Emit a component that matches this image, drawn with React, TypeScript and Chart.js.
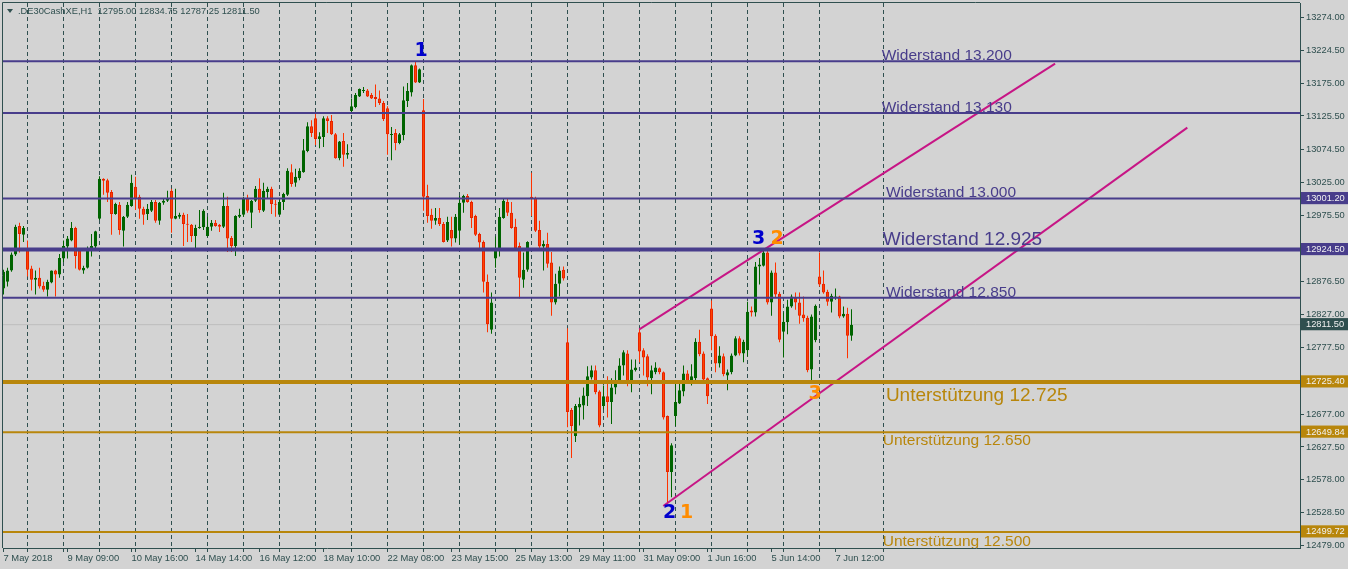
import React, { useEffect, useRef } from 'react';
import { Chart, registerables } from 'chart.js';

Chart.register(...registerables);

// ---------------- data (DE30 Cash, H1) ----------------
const symbol = '.DE30CashXE,H1';

const open = [
  12866, 12876, 12893, 12917, 12960, 12947, 12927, 12896, 12879, 12882,
  12870, 12864, 12875, 12893, 12887, 12911, 12929, 12938, 12957, 12923,
  12893, 12897, 12926, 12929, 12971, 13031, 13029, 13011, 12978, 12992,
  12953, 12974, 12990, 13019, 13004, 12986, 12978, 12983, 12996, 12968,
  12995, 12998, 13013, 12971, 12974, 12977, 12963, 12962, 12945, 12957,
  12958, 12945, 12959, 12965, 12962, 12959, 12990, 12942, 12930, 12974,
  12977, 13002, 12980, 12998, 13016, 12983, 13011, 13016, 12993, 12977,
  12996, 13007, 13041, 13025, 13032, 13041, 13073, 13110, 13122, 13091,
  13094, 13122, 13118, 13098, 13062, 13088, 13067, 13133, 13139, 13155,
  13163, 13164, 13157, 13154, 13152, 13145, 13137, 13097, 13100, 13085,
  13097, 13148, 13161, 13202, 13176, 13134, 13005, 12977, 12968, 12972,
  12963, 12938, 12954, 12941, 12953, 12995, 13005, 12996, 12975, 12948,
  12936, 12876, 12804, 12911, 12926, 12972, 12996, 12980, 12959, 12930,
  12879, 12894, 13004, 13002, 12954, 12929, 12933, 12905, 12845, 12873,
  12894, 12785, 12683, 12644, 12687, 12690, 12704, 12732, 12743, 12711,
  12689, 12704, 12695, 12717, 12726, 12750, 12768, 12726, 12743, 12800,
  12773, 12764, 12731, 12740, 12746, 12740, 12674, 12590, 12674, 12693,
  12711, 12738, 12726, 12731, 12786, 12768, 12731, 12836, 12795, 12753,
  12764, 12735, 12740, 12765, 12791, 12768, 12773, 12833, 12830, 12899,
  12900, 12920, 12845, 12890, 12858, 12801, 12815, 12839, 12852, 12845,
  12827, 12822, 12744, 12788, 12884, 12873, 12861, 12846, 12852, 12854,
  12824, 12828, 12795,
];

const high = [
  12894, 12897, 12920, 12962, 12965, 12960, 12938, 12900, 12893, 12897,
  12876, 12879, 12893, 12894, 12918, 12938, 12945, 12966, 12959, 12924,
  12900, 12929, 12948, 12953, 13035, 13032, 13031, 13014, 12995, 12996,
  12975, 12996, 13037, 13034, 13007, 12989, 12993, 12999, 12999, 12996,
  13001, 13013, 13016, 13016, 12980, 12980, 12978, 12963, 12962, 12984,
  12985, 12974, 12969, 12969, 12963, 13010, 13004, 12945, 12976, 12986,
  13004, 13007, 12999, 13020, 13032, 13025, 13019, 13019, 12999, 12999,
  13010, 13047, 13053, 13046, 13047, 13091, 13116, 13119, 13130, 13101,
  13125, 13125, 13127, 13100, 13088, 13100, 13083, 13152, 13160, 13167,
  13169, 13166, 13160, 13173, 13164, 13148, 13140, 13109, 13106, 13100,
  13170, 13175, 13203, 13208, 13197, 13151, 13022, 12986, 12987, 12987,
  12966, 12974, 12974, 12978, 13005, 13007, 13008, 12998, 12977, 12950,
  12938, 12887, 12860, 12944, 12987, 13001, 13001, 12996, 12971, 12935,
  12920, 12937, 13040, 13004, 12968, 12938, 12950, 12921, 12888, 12899,
  12899, 12806, 12686, 12692, 12702, 12717, 12749, 12750, 12750, 12713,
  12720, 12734, 12731, 12743, 12761, 12773, 12773, 12759, 12759, 12806,
  12776, 12767, 12750, 12755, 12747, 12741, 12675, 12633, 12725, 12725,
  12750, 12743, 12752, 12791, 12804, 12771, 12732, 12848, 12797, 12779,
  12768, 12744, 12768, 12794, 12794, 12789, 12846, 12839, 12906, 12912,
  12927, 12926, 12893, 12905, 12861, 12830, 12849, 12857, 12860, 12860,
  12854, 12825, 12827, 12842, 12920, 12893, 12864, 12858, 12866, 12855,
  12839, 12837, 12834.75,
];

const low = [
  12857, 12869, 12891, 12915, 12920, 12936, 12884, 12863, 12857, 12866,
  12861, 12854, 12874, 12854, 12882, 12906, 12911, 12937, 12896, 12893,
  12888, 12896, 12914, 12926, 12969, 13007, 12996, 12947, 12977, 12947,
  12929, 12972, 12989, 12984, 12971, 12962, 12969, 12981, 12965, 12962,
  12992, 12996, 12950, 12970, 12971, 12930, 12936, 12936, 12924, 12956,
  12954, 12944, 12953, 12959, 12951, 12957, 12921, 12921, 12915, 12972,
  12974, 12980, 12957, 12996, 12980, 12981, 13002, 12978, 12974, 12976,
  12984, 13005, 13019, 13019, 13029, 13040, 13071, 13094, 13082, 13077,
  13079, 13100, 13097, 13061, 13059, 13049, 13061, 13131, 13137, 13154,
  13160, 13154, 13151, 13139, 13142, 13118, 13067, 13059, 13074, 13083,
  13089, 13139, 13155, 13175, 13175, 12983, 12965, 12956, 12962, 12960,
  12935, 12936, 12929, 12935, 12932, 12980, 12995, 12957, 12945, 12927,
  12860, 12800, 12798, 12897, 12914, 12971, 12975, 12956, 12923, 12851,
  12867, 12891, 12975, 12951, 12927, 12893, 12897, 12825, 12842, 12854,
  12878, 12657, 12611, 12635, 12660, 12669, 12689, 12729, 12707, 12657,
  12684, 12672, 12662, 12707, 12725, 12735, 12719, 12710, 12741, 12755,
  12735, 12719, 12707, 12737, 12737, 12669, 12541, 12552, 12659, 12692,
  12704, 12723, 12720, 12728, 12764, 12726, 12692, 12773, 12740, 12747,
  12734, 12713, 12737, 12764, 12765, 12755, 12764, 12824, 12824, 12872,
  12899, 12842, 12825, 12852, 12785, 12762, 12797, 12837, 12834, 12813,
  12816, 12740, 12728, 12785, 12869, 12858, 12840, 12830, 12849, 12821,
  12822, 12761, 12787.25,
];

const close = [
  12891, 12893, 12917, 12959, 12948, 12957, 12894, 12879, 12882, 12869,
  12864, 12876, 12893, 12887, 12912, 12930, 12941, 12957, 12915, 12894,
  12897, 12926, 12930, 12952, 13031, 13028, 13010, 12978, 12993, 12954,
  12974, 12992, 13025, 13001, 12986, 12977, 12986, 12996, 12968, 12995,
  12998, 13001, 12971, 12975, 12977, 12963, 12962, 12945, 12957, 12959,
  12983, 12959, 12965, 12960, 12959, 12990, 12941, 12930, 12975, 12977,
  13001, 12983, 12998, 13016, 12984, 13013, 13016, 12993, 12992, 12996,
  13008, 13043, 13023, 13034, 13043, 13074, 13110, 13100, 13091, 13095,
  13122, 13118, 13098, 13062, 13087, 13067, 13070, 13140, 13157, 13166,
  13164, 13155, 13152, 13151, 13145, 13121, 13098, 13098, 13085, 13098,
  13149, 13163, 13202, 13176, 13196, 13004, 12975, 12968, 12972, 12963,
  12936, 12966, 12941, 12974, 12995, 13005, 12996, 12972, 12947, 12935,
  12876, 12812, 12845, 12926, 12974, 12998, 12980, 12957, 12926, 12882,
  12894, 12936, 13002, 12953, 12929, 12933, 12903, 12845, 12873, 12893,
  12881, 12680, 12659, 12689, 12692, 12705, 12734, 12743, 12710, 12660,
  12704, 12695, 12717, 12726, 12750, 12770, 12726, 12744, 12747, 12771,
  12762, 12732, 12743, 12747, 12740, 12672, 12590, 12630, 12695, 12713,
  12738, 12726, 12734, 12786, 12767, 12729, 12704, 12794, 12753, 12765,
  12737, 12740, 12765, 12791, 12768, 12786, 12831, 12830, 12899, 12902,
  12920, 12845, 12890, 12857, 12789, 12816, 12839, 12854, 12845, 12825,
  12821, 12743, 12824, 12840, 12872, 12860, 12846, 12855, 12854, 12824,
  12828, 12795, 12811.5,
];

// time axis labels (bar index -> label)
const xLabelIndex = [0, 16, 32, 48, 64, 80, 96, 112, 128, 144, 160, 176, 192, 208];
const xLabelText = [
  '7 May 2018', '9 May 09:00', '10 May 16:00', '14 May 14:00', '16 May 12:00', '18 May 10:00',
  '22 May 08:00', '23 May 15:00', '25 May 13:00', '29 May 11:00', '31 May 09:00', '1 Jun 16:00',
  '5 Jun 14:00', '7 Jun 12:00',
];
const xGridIndex = [6, 15, 24, 33, 42, 51, 60, 69, 78, 87, 96, 105, 114, 123, 132, 141, 150, 159, 168, 177, 186, 195, 204, 220];

// price axis
const yTickValues = [13274, 13224.5, 13175, 13125.5, 13074.5, 13025, 12975.5, 12876.5, 12827, 12777.5, 12677, 12627.5, 12578, 12528.5, 12479];
const markedPrices = [13001.2, 12924.5, 12811.5, 12725.4, 12649.84, 12499.72];

// horizontal levels
const resistanceLevels = [13208, 13130, 13001.2, 12924.5, 12852];
const resistanceNames = ['Widerstand 13.200', 'Widerstand 13.130', 'Widerstand 13.000', 'Widerstand 12.925', 'Widerstand 12.850'];
const supportLevels = [12725.4, 12649.84, 12499.72];
const supportNames = ['Unterstützung 12.725', 'Unterstützung 12.650', 'Unterstützung 12.500'];
const bidPrice = 12811.5;

// trend channel (bar index, price)
const channelUpper = [{ x: 158.95, y: 12804.5 }, { x: 262.9, y: 13204.2 }];
const channelLower = [{ x: 164.95, y: 12538.7 }, { x: 295.95, y: 13107.9 }];

// wave counts
const waveText = ['1', '3', '2', '3', '2', '1'];
const waveX = [104.4, 188.8, 193.4, 202.9, 166.5, 170.75];
const waveY = [13223.3, 12940.4, 12940.4, 12707.2, 12528.1, 12527.4];

// ---------------- styling ----------------
const X_MIN = -0.125;
const X_MAX = 324.125;
const Y_MIN = 12475.5;
const Y_MAX = 13295.5;
const FG = '#2F4F4F';
const BG = '#D3D3D3';
const RES = '#483D8B';
const SUP = '#B8860B';
const BULL = '#006400';
const BEAR = '#FF4500';
const BEAR_EDGE = '#E62200';
const BEAR_WICK = '#FF3300';
const FONT = "'Liberation Sans', Arial, sans-serif";

const resWidths = [2, 2, 2, 4, 2];
const supWidths = [4, 2, 2];
const resTextPos = [
  { x: 219.55, y: 13209.7, size: 15.5 },
  { x: 219.55, y: 13131.5, size: 15.5 },
  { x: 220.6, y: 13004.0, size: 15.5 },
  { x: 219.8, y: 12931.4, size: 19 },
  { x: 220.6, y: 12853.6, size: 15.5 },
];
const supTextPos = [
  { x: 220.6, y: 12697.1, size: 19 },
  { x: 219.8, y: 12630.5, size: 15.5 },
  { x: 219.8, y: 12479.0, size: 15.5 },
];
const waveColors = ['#0000CD', '#0000CD', '#FF8C00', '#FF8C00', '#0000CD', '#FF8C00'];
const markedStyle: Record<string, { bg: string; fg: string }> = {
  '13001.2': { bg: RES, fg: '#F0F0F0' },
  '12924.5': { bg: RES, fg: '#F0F0F0' },
  '12811.5': { bg: FG, fg: '#F0F0F0' },
  '12725.4': { bg: SUP, fg: '#F0F0F0' },
  '12649.84': { bg: SUP, fg: '#F0F0F0' },
  '12499.72': { bg: SUP, fg: '#F0F0F0' },
};

const overlayPlugin = {
  id: 'overlay',
  afterDatasetsDraw(chart: any) {
    const { ctx, chartArea: a, scales } = chart;
    const xs = scales.x;
    const ys = scales.y;
    ctx.save();
    ctx.beginPath();
    ctx.rect(a.left, a.top, a.right - a.left, a.bottom - a.top);
    ctx.clip();
    ctx.textAlign = 'left';
    ctx.textBaseline = 'alphabetic';
    resistanceNames.forEach((t, k) => {
      const p = resTextPos[k];
      ctx.font = `${p.size}px ${FONT}`;
      ctx.fillStyle = RES;
      ctx.fillText(t, xs.getPixelForValue(p.x), ys.getPixelForValue(p.y));
    });
    supportNames.forEach((t, k) => {
      const p = supTextPos[k];
      ctx.font = `${p.size}px ${FONT}`;
      ctx.fillStyle = SUP;
      ctx.fillText(t, xs.getPixelForValue(p.x), ys.getPixelForValue(p.y));
    });
    ctx.textAlign = 'center';
    ctx.textBaseline = 'middle';
    ctx.font = `bold 19px 'DejaVu Sans', ${FONT}`;
    waveText.forEach((t, k) => {
      ctx.fillStyle = waveColors[k];
      ctx.fillText(t, xs.getPixelForValue(waveX[k]), ys.getPixelForValue(waveY[k]));
    });
    ctx.restore();

    // frame
    ctx.save();
    ctx.strokeStyle = FG;
    ctx.lineWidth = 1;
    ctx.beginPath();
    ctx.moveTo(a.left - 0.5, a.bottom);
    ctx.lineTo(a.left - 0.5, a.top - 0.5);
    ctx.lineTo(a.right, a.top - 0.5);
    ctx.stroke();
    // header
    const n = close.length;
    ctx.fillStyle = FG;
    ctx.beginPath();
    ctx.moveTo(7, 9);
    ctx.lineTo(13, 9);
    ctx.lineTo(10, 13);
    ctx.closePath();
    ctx.fill();
    ctx.font = `9.3px ${FONT}`;
    ctx.textAlign = 'left';
    ctx.textBaseline = 'middle';
    const hdr = `${symbol}  ${open[n - 1].toFixed(2)} ${high[n - 1].toFixed(2)} ${low[n - 1].toFixed(2)} ${close[n - 1].toFixed(2)}`;
    ctx.fillText(hdr, 18, 11);
    ctx.restore();
  },
};

export default function App() {
  const ref = useRef<HTMLCanvasElement>(null);

  useEffect(() => {
    document.body.style.margin = '0';
    document.body.style.background = BG;
    const n = close.length;
    const idx = Array.from({ length: n }, (_, i) => i);
    const up = idx.map((i) => close[i] >= open[i]);
    const gridSet = new Set(xGridIndex);
    const labelMap = new Map<number, string>();
    xLabelIndex.forEach((v, k) => labelMap.set(v, xLabelText[k]));
    const xTicks = Array.from(new Set([...xGridIndex, ...xLabelIndex])).sort((a, b) => a - b);
    const yTicks = [...yTickValues, ...markedPrices].sort((a, b) => a - b);
    const markedOf = (v: number) => markedStyle[String(v)];

    const hLine = (v: number, color: string, width: number, order = 0) => ({
      type: 'line',
      data: [{ x: X_MIN, y: v }, { x: X_MAX, y: v }],
      borderColor: color,
      borderWidth: width,
      pointRadius: 0,
      order,
      clip: 0,
    });

    const chart = new Chart(ref.current as HTMLCanvasElement, {
      type: 'bar',
      data: {
        datasets: [
          hLine(bidPrice, '#BDBDBD', 1, 9),
          ...resistanceLevels.map((v, k) => hLine(v, RES, resWidths[k])),
          ...supportLevels.map((v, k) => hLine(v, SUP, supWidths[k])),
          { type: 'line', data: channelUpper, borderColor: '#C71585', borderWidth: 2, pointRadius: 0, order: 0, clip: 0 },
          { type: 'line', data: channelLower, borderColor: '#C71585', borderWidth: 2, pointRadius: 0, order: 0, clip: 0 },
          {
            type: 'bar',
            data: idx.map((i) => ({ x: i, y: [open[i], close[i]] })),
            backgroundColor: idx.map((i) => (up[i] ? BULL : BEAR)),
            borderColor: idx.map((i) => (up[i] ? BULL : BEAR_EDGE)),
            borderWidth: 1,
            borderSkipped: false,
            barThickness: 3,
            grouped: false,
            minBarLength: 1,
            inflateAmount: 0,
            order: 2,
          },
          {
            type: 'bar',
            data: idx.map((i) => ({ x: i, y: [low[i], high[i]] })),
            backgroundColor: idx.map((i) => (up[i] ? BULL : BEAR_WICK)),
            borderWidth: 0,
            barThickness: 1,
            grouped: false,
            inflateAmount: 0,
            order: 3,
          },
        ] as any,
      },
      options: {
        responsive: false,
        animation: false,
        events: [],
        layout: { padding: { left: 3, top: 3, right: 0, bottom: 0 } },
        plugins: { legend: { display: false }, tooltip: { enabled: false } },
        font: { family: FONT },
        scales: {
          x: {
            type: 'linear',
            min: X_MIN,
            max: X_MAX,
            offset: false,
            afterBuildTicks: (s: any) => {
              s.ticks = xTicks.map((v) => ({ value: v }));
            },
            afterFit: (s: any) => {
              s.height = 21;
              s.paddingLeft = 0;
              s.paddingRight = 0;
            },
            grid: {
              offset: false,
              color: (c: any) => (c.tick && gridSet.has(c.tick.value) ? FG : 'rgba(0,0,0,0)'),
              lineWidth: 1,
              drawTicks: true,
              tickLength: 4,
              tickColor: FG,
            },
            border: { display: true, color: FG, width: 1, dash: [4, 3] },
            ticks: {
              autoSkip: false,
              maxRotation: 0,
              minRotation: 0,
              align: 'start',
              padding: 1,
              color: FG,
              font: { family: FONT, size: 9.4 },
              callback: (v: any) => labelMap.get(Number(v)) ?? '',
            },
          },
          y: {
            type: 'linear',
            position: 'right',
            min: Y_MIN,
            max: Y_MAX,
            beginAtZero: false,
            afterBuildTicks: (s: any) => {
              s.ticks = yTicks.map((v) => ({ value: v }));
            },
            afterFit: (s: any) => {
              s.width = 48;
              s.paddingTop = 0;
              s.paddingBottom = 0;
            },
            grid: { drawOnChartArea: false, drawTicks: true, tickLength: 4, tickColor: FG, color: FG },
            border: { display: true, color: FG, width: 1 },
            ticks: {
              autoSkip: false,
              padding: 2,
              font: { family: FONT, size: 9.3 },
              color: (c: any) => (c.tick && markedOf(c.tick.value) ? markedOf(c.tick.value).fg : FG),
              showLabelBackdrop: (c: any) => !!(c.tick && markedOf(c.tick.value)),
              backdropColor: (c: any) => (c.tick && markedOf(c.tick.value) ? markedOf(c.tick.value).bg : 'rgba(0,0,0,0)'),
              backdropPadding: { left: 5, right: 6, top: 1, bottom: 0 },
              callback: (v: any) => Number(v).toFixed(2),
            },
          },
        },
      } as any,
      plugins: [overlayPlugin],
    });
    return () => chart.destroy();
  }, []);

  return (
    <div style={{ width: 1348, height: 569, background: BG, overflow: 'hidden' }}>
      <canvas ref={ref} width={1348} height={569} style={{ display: 'block' }} />
    </div>
  );
}
